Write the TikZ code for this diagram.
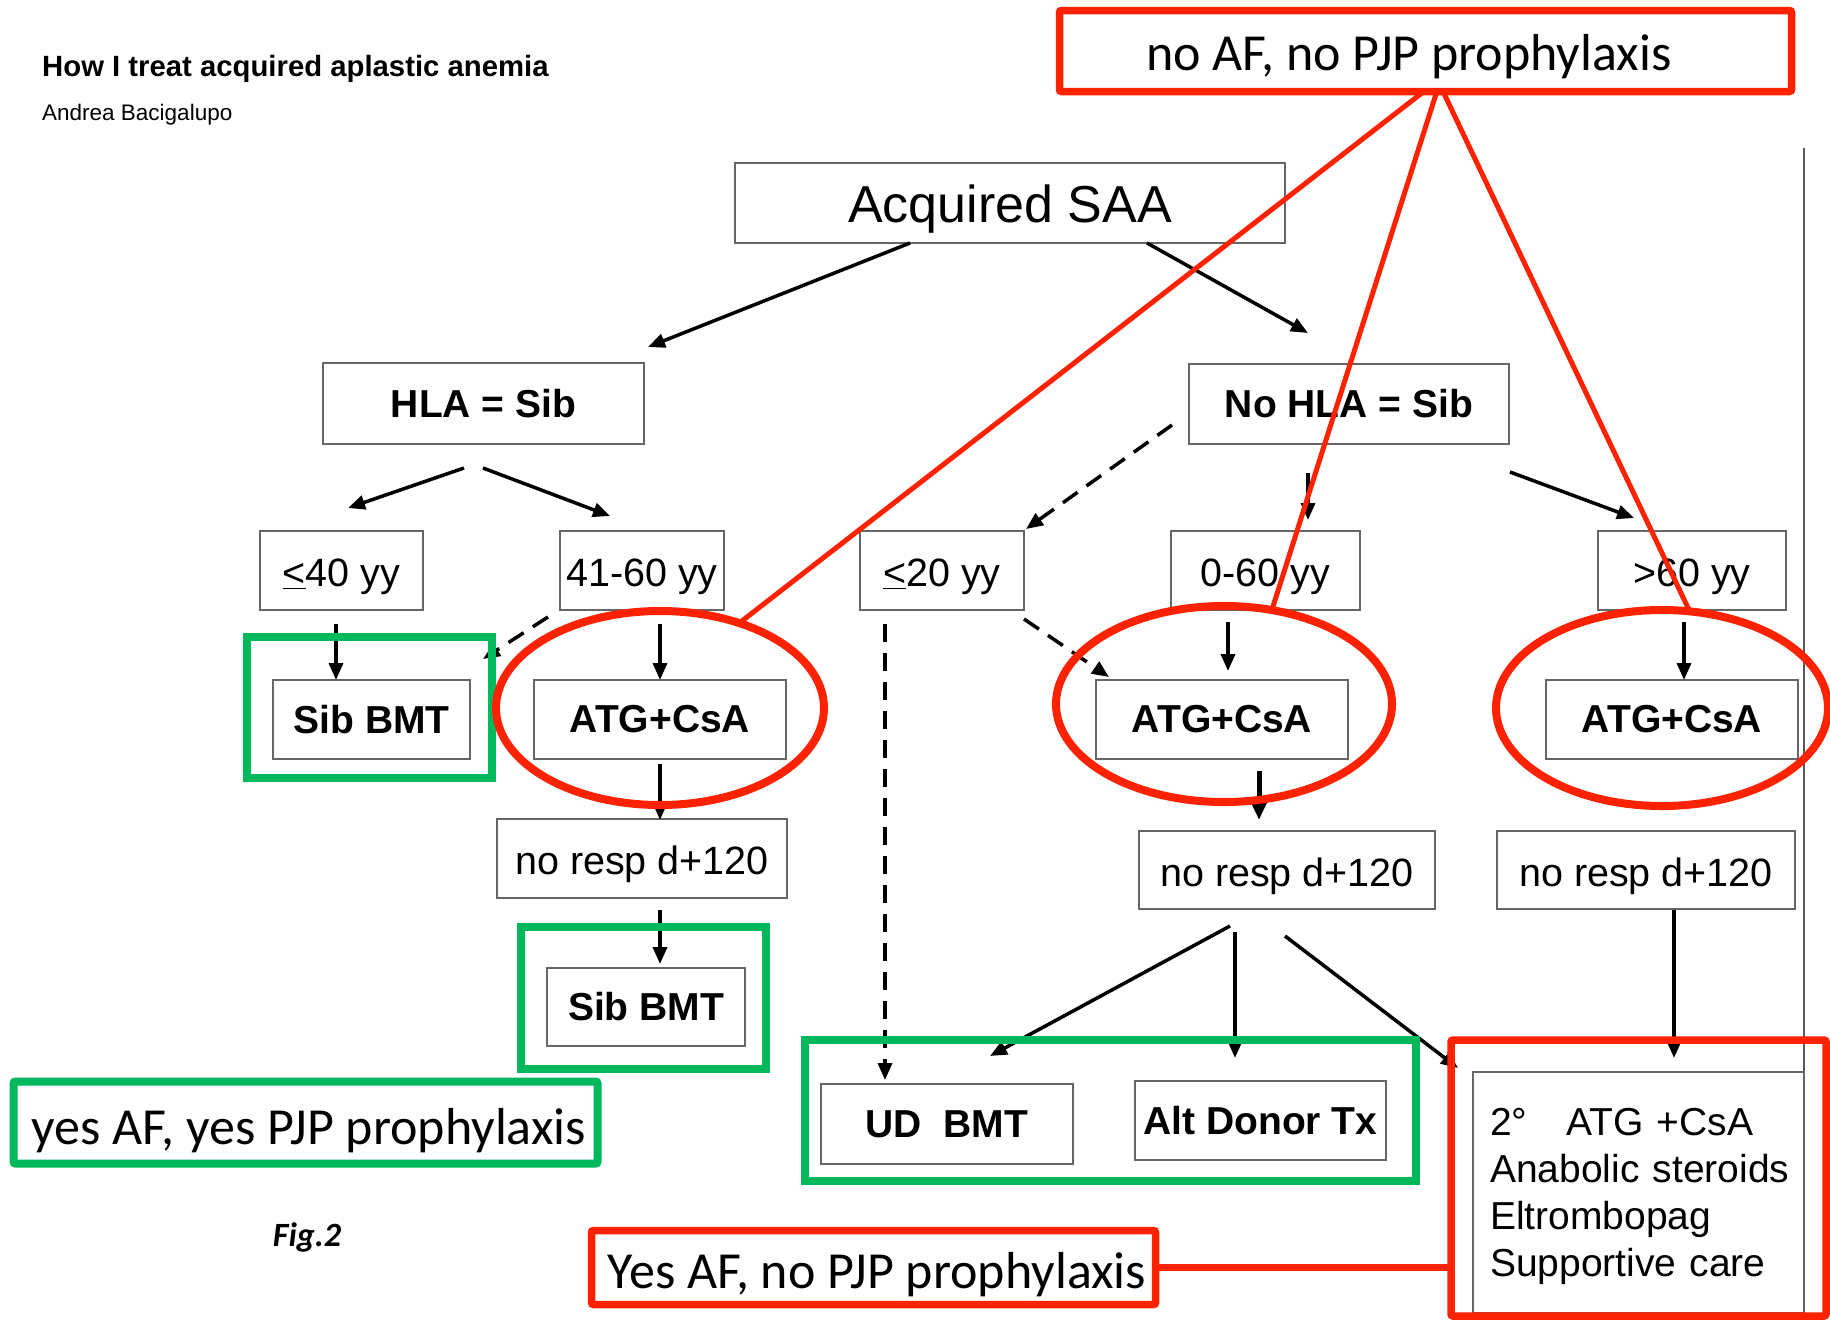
\documentclass[tikz,border=0pt]{standalone}
\usepackage{fontspec}
\setmainfont{Liberation Sans}
\newfontfamily\calfont{Carlito}
\usetikzlibrary{arrows.meta,shapes.geometric,calc}
\definecolor{rd}{RGB}{255,34,0}
\definecolor{gn}{RGB}{0,184,92}
\begin{document}
\begin{tikzpicture}[x=1pt,y=-1pt,
  box/.style={draw=black!60, line width=2pt, rectangle, inner sep=0pt, outer sep=0pt, minimum width=#1pt, minimum height=79pt},
  reg/.style={font=\fontsize{39.5}{46}\selectfont, text height=32pt, text depth=0pt},
  bld/.style={font=\fontsize{39}{46}\selectfont\bfseries},
  arr/.style={line width=3.5pt, -{Triangle[length=17pt,width=14pt]}},
  darr/.style={arr, dash pattern=on 18pt off 11pt},
  redbox/.style={draw=rd, line width=7.5pt, rounded corners=2pt, inner sep=0pt, outer sep=0pt},
  grnbox/.style={draw=gn, line width=8pt, inner sep=0pt, outer sep=0pt},
  redell/.style={ellipse, draw=rd, line width=8pt, inner sep=0pt, outer sep=0pt},
  call/.style={font=\calfont\fontsize{52}{60}\selectfont, inner sep=0pt},
]
\fill[white] (0,0) rectangle (1830,1320);
\useasboundingbox (0,0) rectangle (1830,1320);

% header
\node[anchor=base west, inner sep=0pt, font=\fontsize{29.3}{34}\selectfont\bfseries] (title) at (42,76) {How I treat acquired aplastic anemia};
\node[anchor=base west, inner sep=0pt, font=\fontsize{22.5}{27}\selectfont] (author) at (42,120) {Andrea Bacigalupo};

% right frame line
\coordinate (vtop) at (1804,148);
\coordinate (vbot) at (1804,1320);
\draw[black!65, line width=2pt] (vtop) -- (vbot);

% boxes
\node[box=550, minimum height=80pt, font=\fontsize{52}{60}\selectfont, text height=39pt, text depth=0pt] (saa) at (1010,203) {Acquired SAA};
\node[box=321, minimum height=81pt, bld] (hla) at (483.5,403.5) {HLA = Sib};
\node[box=320, minimum height=80pt, bld] (nohla) at (1349,404) {No HLA = Sib};
\node[box=163, reg] (le40) at (341.5,570.5) {\underline{<}40 yy};
\node[box=164, reg] (a4160) at (642,570.5) {41-60 yy};
\node[box=164, reg] (le20) at (942,570.5) {\underline{<}20 yy};
\node[box=189, reg] (a060) at (1265.5,570.5) {0-60 yy};
\node[box=188, reg] (gt60) at (1692,570.5) {>60 yy};
\node[box=197, bld] (sib1) at (371.5,719.5) {Sib BMT};
\node[box=252, bld] (atg1) at (660,719.5) {ATG+CsA};
\node[box=252, bld] (atg2) at (1222,719.5) {ATG+CsA};
\node[box=252, bld] (atg3) at (1672,719.5) {ATG+CsA};
\node[box=290, reg] (nr1) at (642,858.5) {no resp d+120};
\node[box=296, minimum height=78pt, reg] (nr2) at (1287,870) {no resp d+120};
\node[box=298, minimum height=78pt, reg] (nr3) at (1646,870) {no resp d+120};
\node[box=198, minimum height=78pt, bld] (sib2) at (646,1007) {Sib BMT};
\node[box=252, minimum height=80pt, bld] (ud) at (947,1124) {UD\ \ BMT};
\node[box=251, bld] (alt) at (1260.5,1120.5) {Alt Donor Tx};
\node[box=331, minimum height=241pt] (second) at (1638.5,1192.5) {};
\node[anchor=north west, inner sep=0pt, align=left, text width=320pt, font=\fontsize{39}{46.7}\selectfont] (sectext) at (1490,1108.5)
  {2°\ \ \ ATG +CsA\\Anabolic steroids\\Eltrombopag\\Supportive care};

% arrows
\draw[arr] ($(saa.south)+(-100,0)$) -- ($(hla.north)+(164.5,-16)$);
\draw[arr] ($(saa.south)+(137,0)$) -- ($(nohla.north)+(-41,-31)$);
\draw[arr] ($(hla.south)+(-19.5,24)$) -- ($(le40.north)+(6.5,-23)$);
\draw[arr] ($(hla.south)+(-0.5,24)$) -- ($(a4160.north)+(-32,-15)$);
\draw[darr] ($(nohla.south)+(-177,-19)$) -- ($(le20.north east)+(2,-2)$);
\draw[arr] ($(nohla.south)+(-41,29)$) -- ($(a060.north)+(42.5,-11)$);
\draw[arr] ($(nohla.south east)+(1,28)$) -- ($(gt60.north)+(-58,-13)$);
\draw[arr] ($(le40.south)+(-5.5,14)$) -- ($(sib1.north)+(-35.5,0)$);
\draw[arr] ($(a4160.south)+(18,14)$) -- (atg1.north);
\draw[darr] ($(a4160.south west)+(-12,7)$) -- ($(sib1.north east)+(13,-21)$);
\draw[arr] ($(atg1.south)+(0,5)$) -- ($(nr1.north)+(18,1)$);
\draw[arr] ($(nr1.south)+(18,12)$) -- ($(sib2.north)+(14,-4)$);
\draw[darr] ($(le20.south)+(-57,14)$) -- ($(ud.north)+(-62,-4)$);
\draw[darr] ($(le20.south east)+(0,9)$) -- ($(atg2.north west)+(13,-3)$);
\draw[arr] ($(a060.south)+(-37.5,12)$) -- ($(atg2.north)+(6,-9)$);
\draw[arr] ($(gt60.south)+(-8,12)$) -- ($(atg3.north)+(12,0)$);
\draw[arr, line width=5pt, -{Triangle[length=20pt,width=17pt]}] ($(atg2.south)+(37,12)$) -- ($(nr2.north)+(-28,-11)$);
\draw[arr] ($(nr2.south)+(-57,17)$) -- ($(ud.north)+(43,-28)$);
\draw[arr] ($(nr2.south)+(-52,23)$) -- ($(alt.north)+(-25.5,-23)$);
\draw[arr] ($(nr2.south)+(-2,27)$) -- ($(second.north west)+(-15,-4)$);
\draw[arr] ($(nr3.south)+(28,1)$) -- ($(second.north)+(35.5,-14)$);

% green frames
\node[grnbox, minimum width=245pt, minimum height=141pt] (g1) at (369.5,707.5) {};
\node[grnbox, minimum width=245pt, minimum height=142pt] (g2) at (643.5,998) {};
\node[grnbox, minimum width=611pt, minimum height=141pt] (g3) at (1110.5,1110.5) {};
\node[grnbox, minimum width=584pt, minimum height=82pt, rounded corners=2pt] (gyes) at (305.5,1122.5) {};
\node[call] (gyestext) at (309,1130.5) {yes AF, yes PJP prophylaxis};

% red ellipses
\node[redell, minimum width=328pt, minimum height=194pt] (e1) at (660,708) {};
\node[redell, minimum width=336pt, minimum height=196pt] (e2) at (1224,704) {};
\node[redell, minimum width=332pt, minimum height=196pt] (e3) at (1662,708) {};

% red boxes
\node[redbox, minimum width=732pt, minimum height=81pt] (topred) at (1425.5,51) {};
\node[call] (toptext) at (1409,57) {no AF, no PJP prophylaxis};
\node[redbox, minimum width=375pt, minimum height=276pt] (rbig) at (1638.5,1178) {};
\node[redbox, minimum width=564pt, minimum height=74pt] (ryes) at (873.5,1267.5) {};
\node[call] (ryestext) at (877,1274.5) {Yes AF, no PJP prophylaxis};

% red connectors
\draw[rd, line width=5pt] ($(topred.south)+(-3,1)$) -- (e1.47);
\draw[rd, line width=5pt] ($(topred.south)+(11,1)$) -- (e2.63);
\draw[rd, line width=5pt] ($(topred.south)+(18,1)$) -- (e3.74);
\draw[rd, line width=6.5pt] (ryes.east) -- (rbig.west |- ryes.east);

\node[font=\calfont\fontsize{34}{40}\selectfont\bfseries\itshape] (fig) at (307,1237) {Fig.2};
\end{tikzpicture}
\end{document}
